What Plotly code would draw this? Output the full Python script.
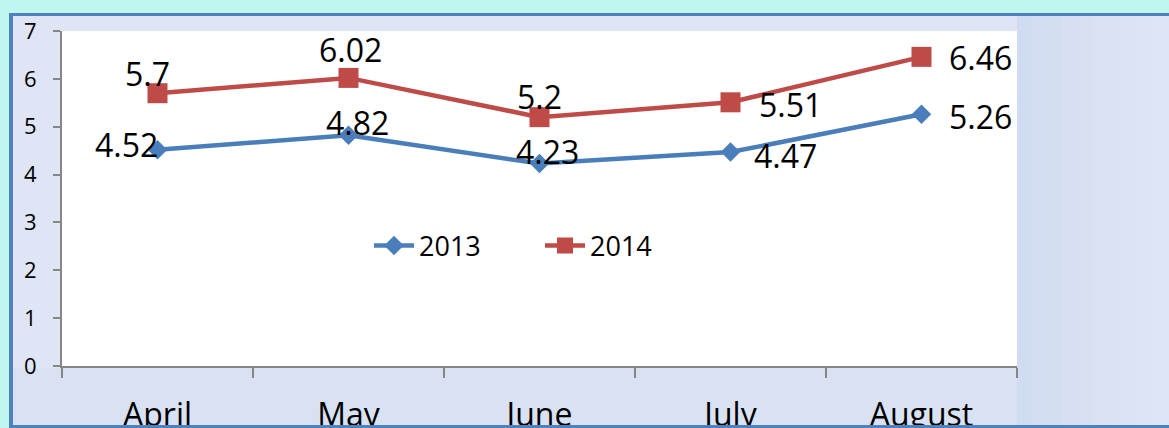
import plotly.graph_objects as go

months = ["April", "May", "June", "July", "August"]
y2013 = [4.52, 4.82, 4.23, 4.47, 5.26]
y2014 = [5.7, 6.02, 5.2, 5.51, 6.46]
y_ticks = [0, 1, 2, 3, 4, 5, 6, 7]

W, H = 1169, 428
L, R, T, B = 62, 1017, 31, 366  # plot area in pixels

def px(x):
    return (x - L) / (R - L)

def py(y):
    return (B - y) / (B - T)

BLUE = "#4a7ebb"
RED = "#be4b48"
FONT = "Open Sans"

fig = go.Figure()
fig.add_trace(go.Scatter(
    x=months, y=y2013, name="2013", mode="lines+markers",
    line=dict(color=BLUE, width=4.5),
    marker=dict(symbol="diamond", size=15, color=BLUE),
))
fig.add_trace(go.Scatter(
    x=months, y=y2014, name="2014", mode="lines+markers",
    line=dict(color=RED, width=4.5),
    marker=dict(symbol="square", size=20, color=RED),
))

# data label offsets (pixels) for each point
off2013 = [(-31, 5), (9, 13), (8, 12), (55, -3), (59, -2)]
off2014 = [(-10, 20), (2, 28), (0, 21), (60, -2), (59, -1)]
annots = []
for vals, offs in ((y2013, off2013), (y2014, off2014)):
    for m, v, (dx, dy) in zip(months, vals, offs):
        annots.append(dict(
            x=m, y=v, xref="x", yref="y", text=f"{v:g}", showarrow=False,
            xshift=dx, yshift=dy, font=dict(family=FONT, size=32, color="black"),
        ))

shapes = []
# soft gradient in the right margin (background styling)
grad_cols = ["#d0dcf1", "#d2ddf1", "#d4def1", "#d6e0f2", "#d8e1f2", "#dae2f3", "#dbe3f3", "#dce4f3", "#dde5f4", "#dee5f4"]
step = (W - R) / len(grad_cols)
for i, c in enumerate(grad_cols):
    shapes.append(dict(type="rect", xref="paper", yref="paper", x0=px(R + i * step), x1=px(R + (i + 1) * step + 1),
                       y0=py(16), y1=py(425), fillcolor=c, line=dict(width=0), layer="below"))
# soft band below the x axis
shapes.append(dict(type="rect", xref="paper", yref="paper", x0=px(13), x1=px(R), y0=py(B + 2), y1=py(425),
                   fillcolor="#d9e2f2", line=dict(width=0), layer="below"))
# cyan outer band (top and left)
shapes.append(dict(type="rect", xref="paper", yref="paper", x0=px(0), x1=px(W), y0=py(0), y1=py(13),
                   fillcolor="#bff7ee", line=dict(width=0), layer="below"))
shapes.append(dict(type="rect", xref="paper", yref="paper", x0=px(0), x1=px(9), y0=py(0), y1=py(H),
                   fillcolor="#bff7ee", line=dict(width=0), layer="below"))
# blue border lines
shapes.append(dict(type="rect", xref="paper", yref="paper", x0=px(9), x1=px(W), y0=py(13), y1=py(16),
                   fillcolor="#4f81bd", line=dict(width=0), layer="below"))
shapes.append(dict(type="rect", xref="paper", yref="paper", x0=px(9), x1=px(13), y0=py(13), y1=py(H),
                   fillcolor="#4f81bd", line=dict(width=0), layer="below"))
shapes.append(dict(type="rect", xref="paper", yref="paper", x0=px(9), x1=px(W), y0=py(425), y1=py(H + 10),
                   fillcolor="#4f81bd", line=dict(width=0), layer="above"))

fig.update_layout(
    width=W, height=H, autosize=False,
    margin=dict(l=L, r=W - R, t=T, b=H - B, pad=0, autoexpand=False),
    paper_bgcolor="#dfe5f4",
    plot_bgcolor="white",
    font=dict(family=FONT, color="black"),
    showlegend=True,
    legend=dict(orientation="h", x=px(540), y=py(246), xanchor="center", yanchor="middle",
                font=dict(size=27, family=FONT), bgcolor="rgba(0,0,0,0)", itemwidth=40,
                entrywidth=116, entrywidthmode="pixels", traceorder="normal"),
    annotations=annots,
    shapes=shapes,
)
fig.update_xaxes(
    type="category", categoryorder="array", categoryarray=months,
    showline=True, linecolor="#868686", linewidth=2,
    ticks="outside", ticklen=10, tickwidth=2, tickcolor="#868686",
    tickson="boundaries", showgrid=False, zeroline=False, automargin=False,
    tickfont=dict(size=32, family=FONT, color="black"),
    ticklabelstandoff=20,
    range=[-0.5, 4.5],
)
fig.update_yaxes(
    range=[0, 7], tickvals=y_ticks, showline=True, linecolor="#868686", linewidth=2,
    ticks="outside", ticklen=7, tickwidth=2, tickcolor="#868686",
    showgrid=False, zeroline=False, automargin=False,
    tickfont=dict(size=22, family=FONT, color="black"),
    ticklabelstandoff=12,
)

fig.write_html("out.html", config={"displayModeBar": False},
               post_script="document.body.style.margin='0';document.body.style.overflow='hidden';")
